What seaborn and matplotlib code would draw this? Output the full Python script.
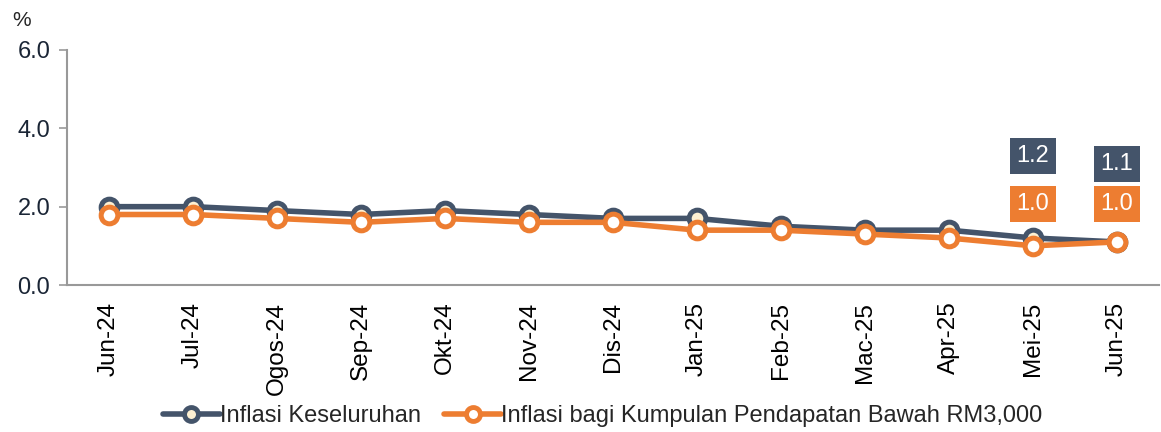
import numpy as np
import pandas as pd
import seaborn as sns
import matplotlib.pyplot as plt
from matplotlib.lines import Line2D

# Monthly inflation (%)
months = ['Jun-24', 'Jul-24', 'Ogos-24', 'Sep-24', 'Okt-24', 'Nov-24', 'Dis-24',
          'Jan-25', 'Feb-25', 'Mac-25', 'Apr-25', 'Mei-25', 'Jun-25']
overall = [2.0, 2.0, 1.9, 1.8, 1.9, 1.8, 1.7, 1.7, 1.5, 1.4, 1.4, 1.2, 1.1]
low_income = [1.8, 1.8, 1.7, 1.6, 1.7, 1.6, 1.6, 1.4, 1.4, 1.3, 1.2, 1.0, 1.1]
series_names = ['Inflasi Keseluruhan', 'Inflasi bagi Kumpulan Pendapatan Bawah RM3,000']
overall_labels = ['1.2', '1.1']
low_income_labels = ['1.0', '1.0']

dark = '#44546A'
orange = '#ED7D31'
fills = ['#FDF0D2', 'white']

df = pd.DataFrame({
    'month': months * 2,
    'value': overall + low_income,
    'series': [series_names[0]] * len(months) + [series_names[1]] * len(months),
})

sns.set_theme(style="white")
plt.rcParams['font.family'] = ['Liberation Sans', 'DejaVu Sans']

fig = plt.figure(figsize=(11.61, 4.32), dpi=100)
ax = fig.add_axes([67 / 1161, 1 - 285 / 432, (1159 - 67) / 1161, (285 - 50) / 432])

sns.lineplot(data=df, x='month', y='value', hue='series', sort=False,
             palette=[dark, orange], linewidth=4, marker='o', markersize=12,
             markeredgewidth=3.6, ax=ax, legend=False)

for line, c, f in zip(ax.lines, [dark, orange], fills):
    line.set_markeredgecolor(c)
    line.set_markerfacecolor(f)

# value boxes for the last two months
x_last = [len(months) - 2, len(months) - 1]
for xi, lab, yy in zip(x_last, overall_labels, [3.3, 3.08]):
    ax.text(xi, yy, lab, color='white', fontsize=17, ha='center', va='center',
            bbox=dict(boxstyle='square,pad=0.3', fc=dark, ec='none'))
for xi, lab in zip(x_last, low_income_labels):
    ax.text(xi, 2.06, lab, color='white', fontsize=17, ha='center', va='center',
            bbox=dict(boxstyle='square,pad=0.3', fc=orange, ec='none'))

ax.set_ylim(0, 6)
ax.set_yticks([0, 2, 4, 6])
ax.set_yticklabels(['0.0', '2.0', '4.0', '6.0'], fontsize=17, color='#1a2535')
ax.set_xlim(-0.5, len(months) - 0.5)
ax.set_xticks(range(len(months)))
ax.set_xticklabels(months, rotation=90, fontsize=17.5, color='black')
ax.set_xticks(np.arange(-0.5, len(months), 1), minor=True)
ax.tick_params(axis='x', which='major', length=0, pad=12)
ax.tick_params(axis='x', which='minor', length=7, width=1.2, color='#999999', direction='out')
ax.tick_params(axis='y', length=6, width=1.2, color='#999999', direction='out', left=True, pad=6)
ax.set_xlabel('')
ax.set_ylabel('')

for s in ['top', 'right']:
    ax.spines[s].set_visible(False)
for s in ['left', 'bottom']:
    ax.spines[s].set_color('#999999')
    ax.spines[s].set_linewidth(1.5)

fig.text(12 / 1161, 1 - 20 / 432, '%', fontsize=15, va='center', ha='left')

handles = [Line2D([], [], color=c, linewidth=4, marker='o', markersize=10,
                  markerfacecolor=f, markeredgecolor=c, markeredgewidth=3.5)
           for c, f in zip([dark, orange], fills)]
fig.legend(handles, series_names, loc='center', bbox_to_anchor=(0.519, 1 - 416 / 432),
           ncol=2, frameon=False, fontsize=17, handlelength=2.4, columnspacing=1.0,
           handletextpad=0.0)

plt.savefig('out.png', dpi=100)
